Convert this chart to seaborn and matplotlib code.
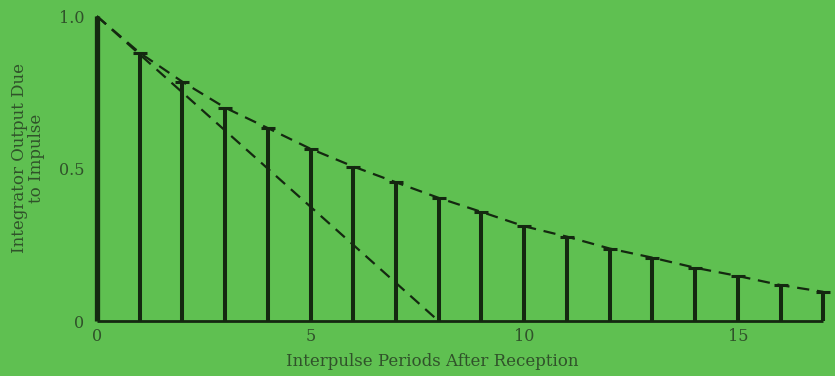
import matplotlib
matplotlib.use("Agg")
import matplotlib.pyplot as plt
import numpy as np
import pandas as pd
import seaborn as sns

# значения
periods = list(range(18))
output = [1.0, 0.88, 0.785, 0.70, 0.633, 0.565, 0.507, 0.455, 0.404, 0.358,
          0.311, 0.277, 0.238, 0.208, 0.175, 0.148, 0.118, 0.096]
linear_x = [0, 8]
linear_y = [1.0, 0.0]

x_ticks = [0, 5, 10, 15]
y_ticks = [0, 0.5, 1.0]
y_ticklabels = ["0", "0.5", "1.0"]

BG = "#5fc051"
INK = "#142810"
TEXT = "#30522a"

sns.set_style("white")
plt.rcParams["font.family"] = ["DejaVu Serif"]

df = pd.DataFrame({"period": periods, "output": output})
lin = pd.DataFrame({"period": linear_x, "output": linear_y})

fig = plt.figure(figsize=(8.35, 3.76), dpi=100, facecolor=BG)
ax = fig.add_axes([0.116, 0.146, 0.870, 0.811])
ax.set_facecolor(BG)

# импульсы
widths = [3.8] + [2.9] * (len(periods) - 1)
ax.vlines(df["period"], 0, df["output"], colors=INK, linewidths=widths, clip_on=False, zorder=3)
ax.scatter(df["period"][1:], df["output"][1:], marker="_", s=90, linewidths=2.2,
           color=INK, clip_on=False, zorder=3)

# огибающие
sns.lineplot(data=df, x="period", y="output", ax=ax, color=INK, linewidth=1.6,
             linestyle=(0, (5.5, 3.5)), clip_on=False, zorder=2)
sns.lineplot(data=lin, x="period", y="output", ax=ax, color=INK, linewidth=1.6,
             linestyle=(0, (5.5, 3.5)), clip_on=False, zorder=2)

ax.hlines(0, 0, 17, colors=INK, linewidth=2.0, clip_on=False, zorder=3)

ax.set_xlim(0, 17)
ax.set_ylim(0, 1.0)
sns.despine(ax=ax, left=True, bottom=True)

ax.set_xticks(x_ticks)
ax.set_xticklabels([str(t) for t in x_ticks])
ax.set_yticks(y_ticks)
ax.set_yticklabels(y_ticklabels)
ax.tick_params(length=0, labelsize=11.5, colors=TEXT)
ax.tick_params(axis="x", pad=5)
ax.tick_params(axis="y", pad=9)

ax.set_xlabel("Interpulse Periods After Reception", fontsize=12, color=TEXT)
ax.set_ylabel("Integrator Output Due\nto Impulse", fontsize=12, color=TEXT,
              linespacing=1.05)
ax.xaxis.set_label_coords(0.461, -0.105)
ax.yaxis.set_label_coords(-0.071, 0.535)

fig.savefig("out.png", dpi=100, facecolor=BG)
